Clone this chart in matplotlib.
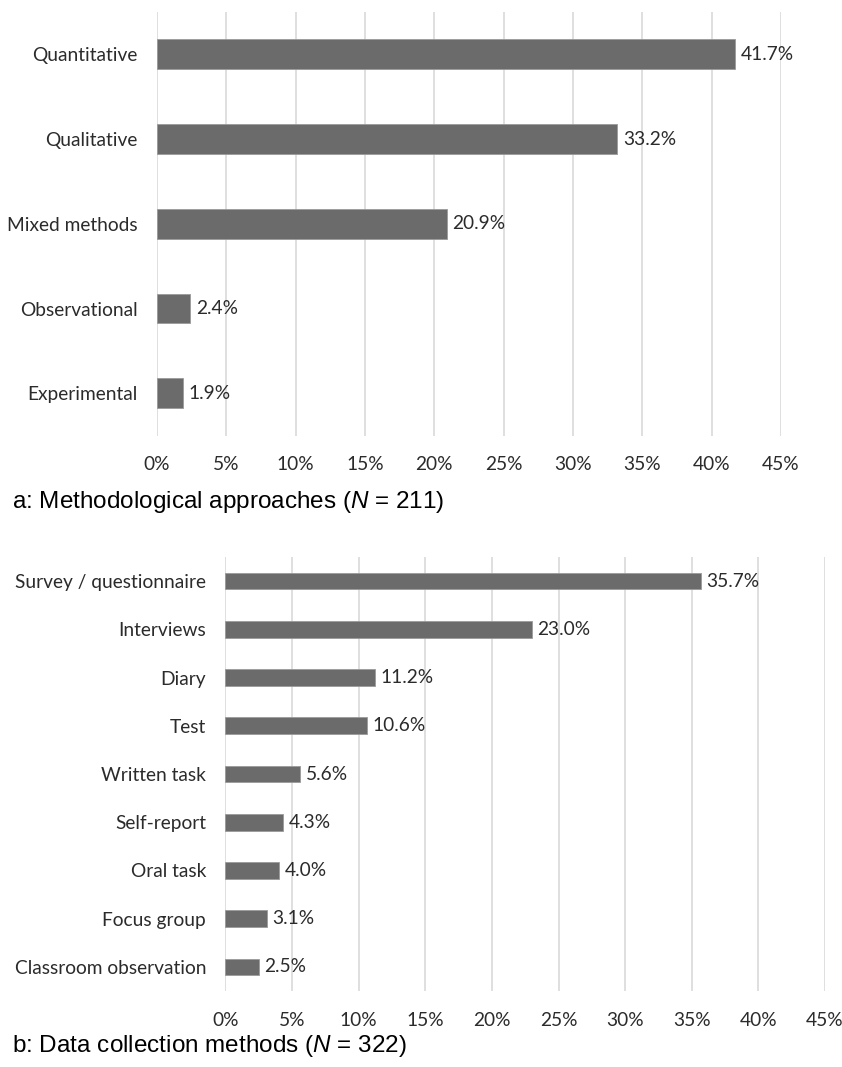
import matplotlib.pyplot as plt
from matplotlib.ticker import PercentFormatter

# panel a
approaches = ['Quantitative', 'Qualitative', 'Mixed methods', 'Observational', 'Experimental']
approach_pct = [41.7, 33.2, 20.9, 2.4, 1.9]

# panel b
methods = ['Survey / questionnaire', 'Interviews', 'Diary', 'Test', 'Written task',
           'Self-report', 'Oral task', 'Focus group', 'Classroom observation']
method_pct = [35.7, 23.0, 11.2, 10.6, 5.6, 4.3, 4.0, 3.1, 2.5]

xticks = [0, 5, 10, 15, 20, 25, 30, 35, 40, 45]

plt.rcParams['mathtext.fontset'] = 'custom'
plt.rcParams['mathtext.rm'] = 'Liberation Sans'
plt.rcParams['mathtext.it'] = 'Liberation Sans:italic'

label_font = 'Lato'
fs = 13.8
text_col = '#2b2b2b'
bar_col = '#6b6b6b'


def draw_panel(ax, cats, vals, bar_h):
    y = list(range(len(cats)))
    ax.barh(y, vals, height=bar_h, color=bar_col, edgecolor='#9a9a9a', linewidth=0.6, zorder=3)
    for yi, v in zip(y, vals):
        ax.annotate(f'{v:.1f}%', (v, yi), xytext=(4, 0), textcoords='offset points',
                    ha='left', va='center', fontsize=fs, family=label_font, color=text_col)
    ax.set_yticks(y)
    ax.set_yticklabels(cats, family=label_font, fontsize=fs, color=text_col)
    ax.set_ylim(len(cats) - 0.5, -0.5)
    ax.set_xlim(0, 45)
    ax.set_xticks(xticks)
    ax.xaxis.set_major_formatter(PercentFormatter(decimals=0))
    for lab in ax.get_xticklabels():
        lab.set_family(label_font)
        lab.set_fontsize(fs)
        lab.set_color(text_col)
    ax.tick_params(axis='both', length=0)
    ax.tick_params(axis='x', pad=15)
    ax.tick_params(axis='y', pad=14)
    ax.grid(axis='x', color='#d9d9d9', linewidth=1.2, zorder=0)
    for s in ax.spines.values():
        s.set_visible(False)


fig = plt.figure(figsize=(8.42, 10.67), dpi=100)

ax1 = fig.add_axes([0.1865, 0.5918, 0.7411, 0.3969])
draw_panel(ax1, approaches, approach_pct, 0.354)

ax2 = fig.add_axes([0.2678, 0.0712, 0.712, 0.4068])
draw_panel(ax2, methods, method_pct, 0.345)

fig.text(0.014, 1 - 502 / 1067, 'a: Methodological approaches ($\\it{N}$ = 211)',
         family='Liberation Sans', fontsize=17.5, va='center', ha='left', color='black')
fig.text(0.014, 1 - 1046 / 1067, 'b: Data collection methods ($\\it{N}$ = 322)',
         family='Liberation Sans', fontsize=17.5, va='center', ha='left', color='black')

fig.savefig('out.png', dpi=100)
